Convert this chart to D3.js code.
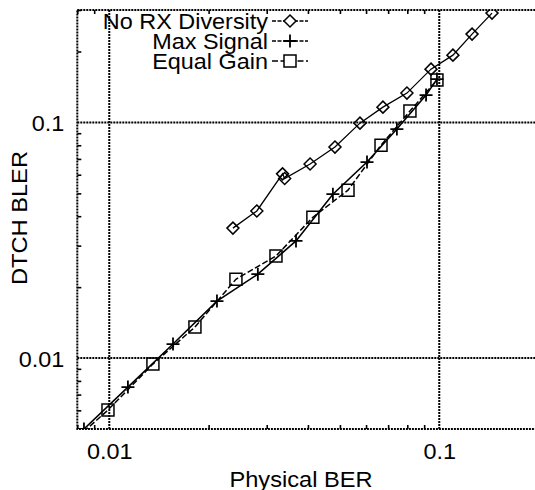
<!DOCTYPE html>
<html>
<head>
<meta charset="utf-8">
<script src="https://cdn.jsdelivr.net/npm/d3@7"></script>
<style>
	body { margin: 0; background: #fff; }
	text { font-family: "Liberation Sans", Arial, sans-serif; fill: #000; }
</style>
</head>
<body>
<svg id="graphique" width="535" height="490"></svg>
<script>
// values
var berNoRx  = [0.0237, 0.0280, 0.0335, 0.0340, 0.0406, 0.0483, 0.0575, 0.0675, 0.0798, 0.0944, 0.110, 0.1257, 0.1445];
var blerNoRx = [0.0356, 0.0421, 0.0605, 0.0578, 0.0666, 0.0786, 0.0993, 0.1161, 0.1332, 0.1683, 0.193, 0.237, 0.291];

var berMax  = [0.00838, 0.01139, 0.0156, 0.0212, 0.0282, 0.0368, 0.0476, 0.0604, 0.0744, 0.0912, 0.0984];
var blerMax = [0.0050, 0.00753, 0.01147, 0.01745, 0.0227, 0.0314, 0.0496, 0.0679, 0.0937, 0.1306, 0.1527];

var berEqual  = [0.0080, 0.00991, 0.01356, 0.01818, 0.0242, 0.0320, 0.0414, 0.0529, 0.0666, 0.0815, 0.0984];
var blerEqual = [0.0046, 0.00602, 0.00943, 0.01354, 0.0216, 0.0271, 0.0396, 0.0516, 0.0801, 0.1117, 0.1512];

var seriesNames = ["No RX Diversity", "Max Signal", "Equal Gain"];

var xMajor = [0.01, 0.1];
var yMajor = [0.01, 0.1];
var xMinor = [0.008, 0.009, 0.02, 0.03, 0.04, 0.05, 0.06, 0.07, 0.08, 0.09, 0.2];
var yMinor = [0.006, 0.007, 0.008, 0.009, 0.02, 0.03, 0.04, 0.05, 0.06, 0.07, 0.08, 0.09, 0.2, 0.3];

var xTitle = "Physical BER";
var yTitle = "DTCH BLER";

function zip(xs, ys){
	var out = [];
	for(var i = 0; i < xs.length; i++){
		out.push({ber: xs[i], bler: ys[i]});
	}
	return out;
}

// helvetica in the original runs a bit wider than liberation
function stretch(sel, k){
	sel.each(function(){
		var w = this.getComputedTextLength();
		d3.select(this).attr("textLength", w * k).attr("lengthAdjust", "spacingAndGlyphs");
	});
}

var graphique = d3.select("#graphique");
var FONT = 22.5;
var MARGINS = {top: 10, bottom: 429, left: 77.3, right: 538.6};

var xScale = d3.scaleLog().domain([0.008, 0.2]).range([MARGINS.left, MARGINS.right]);
var yScale = d3.scaleLog().domain([0.005, 0.3]).range([MARGINS.bottom, MARGINS.top]);

graphique.append("rect").attr("width", 535).attr("height", 490).attr("fill", "#fff");

graphique.append("clipPath").attr("id", "zone")
	.append("rect")
	.attr("x", MARGINS.left).attr("y", MARGINS.top)
	.attr("width", MARGINS.right - MARGINS.left)
	.attr("height", MARGINS.bottom - MARGINS.top);

var DASH = "2,1";
var GRID_W = 2;

//////////// grille
xMajor.forEach(function(v){
	graphique.append("line")
		.attr("x1", xScale(v)).attr("x2", xScale(v))
		.attr("y1", MARGINS.top).attr("y2", MARGINS.bottom)
		.attr("stroke", "#000").attr("stroke-width", GRID_W).attr("stroke-dasharray", DASH);
});
yMajor.forEach(function(v){
	graphique.append("line")
		.attr("x1", MARGINS.left).attr("x2", MARGINS.right)
		.attr("y1", yScale(v)).attr("y2", yScale(v))
		.attr("stroke", "#000").attr("stroke-width", GRID_W).attr("stroke-dasharray", DASH);
});

//////////// cadre
graphique.append("rect")
	.attr("x", MARGINS.left).attr("y", MARGINS.top)
	.attr("width", MARGINS.right - MARGINS.left)
	.attr("height", MARGINS.bottom - MARGINS.top)
	.attr("fill", "none").attr("stroke", "#000").attr("stroke-width", GRID_W).attr("stroke-dasharray", DASH);

//////////// petites graduations
function minorAxis(axis, transform){
	var g = graphique.append("g").attr("transform", transform).call(axis);
	g.select(".domain").remove();
	g.selectAll(".tick line").attr("stroke", "#000").attr("stroke-width", 1.6);
	g.selectAll(".tick text").remove();
}
minorAxis(d3.axisBottom(xScale).tickValues(xMinor).tickSize(-4), "translate(0," + MARGINS.bottom + ")");
minorAxis(d3.axisTop(xScale).tickValues(xMinor).tickSize(-4), "translate(0," + MARGINS.top + ")");
minorAxis(d3.axisLeft(yScale).tickValues(yMinor).tickSize(-4), "translate(" + MARGINS.left + ",0)");

//////////// etiquettes
var xLab = graphique.append("g")
	.attr("transform", "translate(0," + MARGINS.bottom + ")")
	.call(d3.axisBottom(xScale).tickValues(xMajor).tickSize(0).tickPadding(0).tickFormat(function(d){ return d + ""; }));
xLab.select(".domain").remove();
xLab.selectAll("text").attr("font-size", FONT).attr("font-family", null).attr("fill", "#000").attr("dy", null).attr("y", 30);
stretch(xLab.selectAll("text"), 1.04);

var yLab = graphique.append("g")
	.attr("transform", "translate(" + MARGINS.left + ",0)")
	.call(d3.axisLeft(yScale).tickValues(yMajor).tickSize(0).tickPadding(0).tickFormat(function(d){ return d + ""; }));
yLab.select(".domain").remove();
yLab.selectAll("text").attr("font-size", FONT).attr("font-family", null).attr("fill", "#000").attr("x", -13).attr("dy", "0.36em");
stretch(yLab.selectAll("text"), 1.04);

var tx = graphique.append("text")
	.attr("x", 301).attr("y", 487)
	.attr("text-anchor", "middle").attr("font-size", FONT)
	.text(xTitle);
stretch(tx, 1.05);

var ty = graphique.append("text")
	.attr("transform", "translate(27,218) rotate(-90)")
	.attr("text-anchor", "middle").attr("font-size", FONT)
	.text(yTitle);
stretch(ty, 1.05);

//////////// courbes
var markers = {
	diamond: "M0,-6L6,0L0,6L-6,0Z",
	plus: "M-6.5,0H6.5M0,-6.5V6.5",
	square: "M-6,-6H6V6H-6Z"
};

var series = [
	{name: seriesNames[0], data: zip(berNoRx, blerNoRx), marker: "diamond", width: 1.3, dash: null},
	{name: seriesNames[1], data: zip(berMax, blerMax), marker: "plus", width: 1.6, dash: null},
	{name: seriesNames[2], data: zip(berEqual, blerEqual), marker: "square", width: 1.5, dash: "6,2.5"}
];

var line = d3.line()
	.x(function(d){ return xScale(d.ber); })
	.y(function(d){ return yScale(d.bler); });

var plot = graphique.append("g").attr("clip-path", "url(#zone)");

series.forEach(function(s){
	plot.append("path")
		.attr("d", line(s.data))
		.attr("fill", "none").attr("stroke", "#000")
		.attr("stroke-width", s.width)
		.attr("stroke-dasharray", s.dash);

	plot.selectAll(null).data(s.data).enter().append("path")
		.attr("d", markers[s.marker])
		.attr("transform", function(d){ return "translate(" + xScale(d.ber) + "," + yScale(d.bler) + ")"; })
		.attr("fill", "none").attr("stroke", "#000")
		.attr("stroke-width", s.marker == "plus" ? 1.8 : 1.5);
});

//////////// legende
var legende = graphique.append("g");
series.forEach(function(s, i){
	var yc = 21 + i * 20;
	var t = legende.append("text")
		.attr("x", 268).attr("y", yc + 8)
		.attr("text-anchor", "end").attr("font-size", FONT)
		.text(s.name);
	stretch(t, 1.04);
	legende.append("line")
		.attr("x1", 272).attr("x2", 308).attr("y1", yc).attr("y2", yc)
		.attr("stroke", "#000").attr("stroke-width", s.width)
		.attr("stroke-dasharray", s.dash || "4,1.5");
	legende.append("path")
		.attr("d", markers[s.marker])
		.attr("transform", "translate(290," + yc + ")")
		.attr("fill", "#fff").attr("stroke", "#000")
		.attr("stroke-width", s.marker == "plus" ? 1.8 : 1.5);
});
</script>
</body>
</html>
